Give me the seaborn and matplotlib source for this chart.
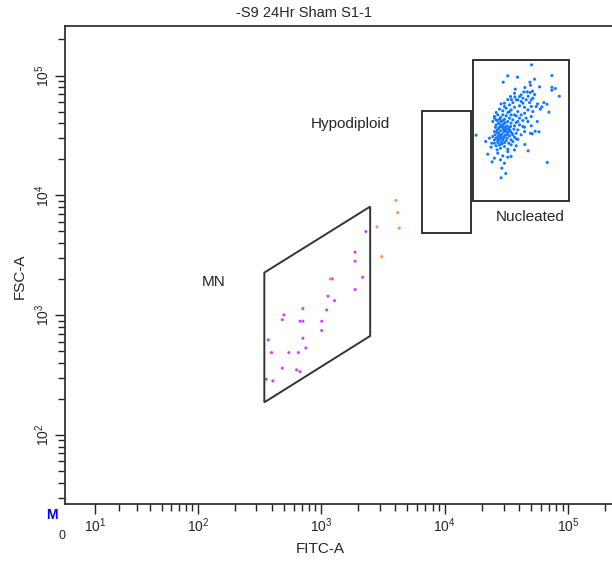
import numpy as np
import pandas as pd
import seaborn as sns
import matplotlib.pyplot as plt
from matplotlib.patches import Polygon
from matplotlib.ticker import FixedLocator, NullFormatter

# event readings, log10 units
nucleated_fitc_log = [
    4.703, 4.511, 4.868, 4.590, 4.728, 4.474, 4.690, 4.695, 4.768, 4.868,
    4.649, 4.895, 4.571, 4.868, 4.711, 4.641, 4.668, 4.692, 4.565, 4.728,
    4.928, 4.676, 4.568, 4.606, 4.533, 4.633, 4.511, 4.541, 4.579, 4.660,
    4.701, 4.687, 4.619, 4.552, 4.484, 4.752, 4.803, 4.828, 4.457, 4.525,
    4.741, 4.787, 4.701, 4.606, 4.647, 4.565, 4.498, 4.444, 4.538, 4.471,
    4.674, 4.774, 4.592, 4.417, 4.511, 4.844, 4.647, 4.430, 4.471, 4.498,
    4.538, 4.579, 4.403, 4.452, 4.525, 4.606, 4.701, 4.484, 4.552, 4.417,
    4.674, 4.633, 4.457, 4.511, 4.579, 4.436, 4.538, 4.701, 4.390, 4.749,
    4.417, 4.452, 4.479, 4.506, 4.533, 4.565, 4.606, 4.647, 4.444, 4.471,
    4.498, 4.525, 4.560, 4.592, 4.425, 4.452, 4.479, 4.511, 4.544, 4.579,
    4.436, 4.463, 4.490, 4.409, 4.430, 4.457, 4.484, 4.525, 4.565, 4.695,
    4.733, 4.763, 4.647, 4.619, 4.444, 4.471, 4.403, 4.498, 4.538, 4.592,
    4.255, 4.333, 4.382, 4.430, 4.463, 4.417, 4.484, 4.538, 4.579, 4.649,
    4.452, 4.511, 4.376, 4.565, 4.676, 4.349, 4.430, 4.471, 4.511, 4.538,
    4.403, 4.452, 4.384, 4.830, 4.484, 4.463, 4.495, 4.457,
    4.403, 4.425, 4.444, 4.471, 4.490, 4.411, 4.436, 4.463, 4.490, 4.517,
    4.403, 4.425, 4.452, 4.479, 4.506, 4.533, 4.417, 4.438, 4.476, 4.506,
    4.430, 4.457, 4.484, 4.519, 4.552, 4.403, 4.444, 4.471, 4.498, 4.552,
    4.709, 4.579, 4.619, 4.660, 4.714, 4.633, 4.592, 4.565, 4.525, 4.484,
    4.633, 4.592, 4.714, 4.619, 4.390, 4.363, 4.511, 4.425,
]
nucleated_fsc_log = [
    5.089, 4.997, 5.000, 4.986, 4.969, 4.944, 4.944, 4.919, 4.905, 4.902,
    4.900, 4.891, 4.886, 4.877, 4.869, 4.863, 4.863, 4.858, 4.852, 4.841,
    4.827, 4.827, 4.822, 4.824, 4.824, 4.811, 4.799, 4.799, 4.797, 4.797,
    4.797, 4.774, 4.783, 4.774, 4.769, 4.763, 4.774, 4.760, 4.763, 4.755,
    4.741, 4.738, 4.741, 4.747, 4.735, 4.735, 4.727, 4.719, 4.713, 4.705,
    4.713, 4.719, 4.699, 4.691, 4.691, 4.694, 4.685, 4.671, 4.671, 4.663,
    4.671, 4.663, 4.658, 4.649, 4.644, 4.644, 4.658, 4.635, 4.630, 4.630,
    4.616, 4.624, 4.616, 4.616, 4.607, 4.602, 4.602, 4.580, 4.616, 4.616,
    4.588, 4.588, 4.596, 4.580, 4.574, 4.580, 4.588, 4.568, 4.568, 4.560,
    4.552, 4.546, 4.552, 4.546, 4.546, 4.538, 4.530, 4.524, 4.518, 4.518,
    4.518, 4.510, 4.502, 4.505, 4.485, 4.485, 4.491, 4.496, 4.485, 4.518,
    4.535, 4.530, 4.532, 4.505, 4.468, 4.463, 4.463, 4.457, 4.463, 4.468,
    4.502, 4.449, 4.435, 4.440, 4.429, 4.413, 4.407, 4.421, 4.413, 4.424,
    4.393, 4.385, 4.402, 4.379, 4.371, 4.343, 4.351, 4.329, 4.318, 4.324,
    4.310, 4.296, 4.279, 4.274, 4.268, 4.226, 4.182, 4.146,
    4.644, 4.624, 4.635, 4.624, 4.607, 4.568, 4.557, 4.574, 4.568, 4.560,
    4.532, 4.524, 4.502, 4.546, 4.507, 4.532, 4.477, 4.496, 4.479, 4.477,
    4.457, 4.446, 4.440, 4.435, 4.449, 4.435, 4.421, 4.585, 4.535, 4.505,
    4.513, 4.471, 4.671, 4.644, 4.699, 4.574, 4.616, 4.671, 4.699, 4.741,
    4.769, 4.797, 4.811, 4.838, 4.491, 4.477, 4.365, 4.379,
]
mn_fitc_log = [
    3.363, 3.276, 3.276, 3.338, 3.276, 3.057, 3.109, 3.046, 2.854, 2.700,
    2.687, 2.830, 2.854, 3.006, 3.006, 2.854, 2.573, 2.878, 2.600, 2.740,
    2.817, 2.687, 2.803, 2.830, 2.557, 2.611, 3.090,
]
mn_fsc_log = [
    3.697, 3.525, 3.450, 3.316, 3.213, 3.158, 3.121, 3.043, 3.054, 3.002,
    2.962, 2.949, 2.949, 2.949, 2.871, 2.807, 2.793, 2.726, 2.687, 2.687,
    2.687, 2.557, 2.543, 2.528, 2.465, 2.451, 3.302,
]
other_fitc_log = [3.606, 3.620, 3.453, 3.633, 3.491, 3.075]
other_fsc_log = [3.957, 3.856, 3.736, 3.725, 3.488, 3.302]

# gates (FITC-A, FSC-A corners)
mn_gate_fitc = [348, 2500, 2500, 348]
mn_gate_fsc = [2264, 8050, 670, 187]
hypo_gate_fitc = [6580, 16300, 16300, 6580]
hypo_gate_fsc = [50900, 50900, 4830, 4830]
nuc_gate_fitc = [16900, 101700, 101700, 16900]
nuc_gate_fsc = [135800, 135800, 8980, 8980]

colors = {"Nucleated": "#1479ff", "MN": "#cc44ff", "Other": "#ff9150"}

df = pd.DataFrame({
    "FITC-A": 10 ** np.array(nucleated_fitc_log + mn_fitc_log + other_fitc_log),
    "FSC-A": 10 ** np.array(nucleated_fsc_log + mn_fsc_log + other_fsc_log),
    "gate": ["Nucleated"] * len(nucleated_fitc_log) + ["MN"] * len(mn_fitc_log)
            + ["Other"] * len(other_fitc_log),
})

sns.set_style("ticks")
plt.rcParams["font.family"] = ["Liberation Sans", "DejaVu Sans"]
plt.rcParams["mathtext.fontset"] = "custom"
plt.rcParams["mathtext.rm"] = "Liberation Sans"

W, H = 612, 564
fig = plt.figure(figsize=(W / 100, H / 100), dpi=100)
ax = fig.add_axes([65 / W, (H - 504) / H, (W - 65) / W, (504 - 26) / H])

sns.scatterplot(data=df, x="FITC-A", y="FSC-A", hue="gate", palette=colors,
                marker="o", s=5, linewidth=0, legend=False, ax=ax)

ax.set_xscale("asinh", linear_width=17)
ax.set_yscale("log")
ax.set_xlim(0, 226000)
ax.set_ylim(26.5, 259000)

gate_style = dict(fill=False, edgecolor="#333333", linewidth=1.4)
for gx, gy in [(mn_gate_fitc, mn_gate_fsc), (hypo_gate_fitc, hypo_gate_fsc),
               (nuc_gate_fitc, nuc_gate_fsc)]:
    ax.add_patch(Polygon(list(zip(gx, gy)), closed=True, **gate_style))

ax.text(1740, 39500, "Hypodiploid", fontsize=11, ha="center", va="center")
ax.text(49300, 6600, "Nucleated", fontsize=11, ha="center", va="center")
ax.text(135, 1890, "MN", fontsize=11, ha="center", va="center")

decades_x = [10, 100, 1000, 10000, 100000]
decades_y = [100, 1000, 10000, 100000]
minor_x = [m * d for d in [10, 100, 1000, 10000] for m in range(2, 10)] + [200000]
minor_y = [m * 10 for m in range(3, 10)] + \
    [m * d for d in [100, 1000, 10000] for m in range(2, 10)] + [200000]

ax.xaxis.set_major_locator(FixedLocator(decades_x))
ax.xaxis.set_minor_locator(FixedLocator(minor_x))
ax.xaxis.set_minor_formatter(NullFormatter())
ax.set_xticklabels([r"$\mathregular{10^{%d}}$" % i for i in range(1, 6)], fontsize=10)
ax.yaxis.set_major_locator(FixedLocator(decades_y))
ax.yaxis.set_minor_locator(FixedLocator(minor_y))
ax.yaxis.set_minor_formatter(NullFormatter())
ax.set_yticklabels([r"$\mathregular{10^{%d}}$" % i for i in range(2, 6)], fontsize=10,
                   rotation=90, va="center")

ax.tick_params(which="major", length=7, width=1, color="#222222", pad=2)
ax.tick_params(which="minor", length=5, width=1, color="#222222")
ax.spines["right"].set_visible(False)
for s in ["left", "bottom", "top"]:
    ax.spines[s].set_linewidth(1.3)
    ax.spines[s].set_color("#333333")
ax.set_xlabel("")
ax.set_ylabel("")

fig.text(304 / W, 1 - 13 / H, "-S9 24Hr Sham S1-1", fontsize=10.5, ha="center", va="center")
fig.text(320 / W, 1 - 549 / H, "FITC-A", fontsize=11, ha="center", va="center")
fig.text(20 / W, 1 - 276 / H, "FSC-A", fontsize=11, ha="center", va="center", rotation=90)
fig.text(62 / W, 1 - 536 / H, "0", fontsize=9, ha="center", va="center")
fig.text(52 / W, 1 - 515 / H, "M", fontsize=10, ha="center", va="center",
         color="#0000ff", fontweight="bold")

fig.savefig("out.png", dpi=100)
